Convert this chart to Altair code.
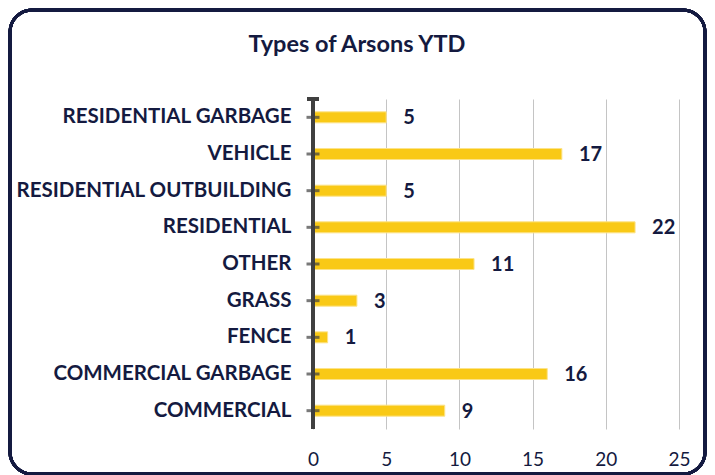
import altair as alt
import pandas as pd

categories = ["RESIDENTIAL GARBAGE", "VEHICLE", "RESIDENTIAL OUTBUILDING", "RESIDENTIAL",
              "OTHER", "GRASS", "FENCE", "COMMERCIAL GARBAGE", "COMMERCIAL"]
counts = [5, 17, 5, 22, 11, 3, 1, 16, 9]
x_ticks = [0, 5, 10, 15, 20, 25]
title_text = "Types of Arsons YTD"

NAVY = "#141a40"
AXIS = "#404040"
FONT = "Lato"

df = pd.DataFrame({"category": categories, "count": counts})

W, H = 366, 330
ycat = alt.Y("category:N", sort=categories, title=None,
             axis=alt.Axis(labelFont=FONT, labelFontSize=20.5, labelFontWeight="bold",
                           labelColor=NAVY, domain=False, ticks=False, labelPadding=22,
                           labelLimit=400))
xq = alt.X("count:Q", title=None, scale=alt.Scale(domain=[0, 25], nice=False),
           axis=alt.Axis(values=x_ticks, labelFont=FONT, labelFontSize=19,
                         labelColor=NAVY, domain=False, ticks=False, labelPadding=21,
                         labelFlush=False,
                         grid=True, gridColor="#c4c4c4", gridWidth=1))

base = alt.Chart(df)

frame = base.mark_rect(cornerRadius=22, fill=None, stroke=NAVY, strokeWidth=3).encode(
    x=alt.value(-303), x2=alt.value(392), y=alt.value(-89), y2=alt.value(375)
)

title = alt.Chart(pd.DataFrame({"t": [title_text]})).mark_text(
    font=FONT, fontSize=23.5, fontWeight="bold", color=NAVY, align="center", baseline="middle"
).encode(x=alt.value(44), y=alt.value(-54), text="t:N")

bars = base.mark_bar(size=11, color="#f9c916", stroke="#fce38a", strokeWidth=1).encode(
    x=xq, y=ycat
)

labels = base.mark_text(align="left", baseline="middle", dx=17, dy=1, font=FONT,
                        fontSize=20, fontWeight="bold", color=NAVY).encode(
    x="count:Q", y=alt.Y("category:N", sort=categories), text="count:Q"
)

axis_line = base.mark_rule(color=AXIS, strokeWidth=3.5).encode(
    x=alt.datum(0), y=alt.value(0), y2=alt.value(H)
)

cross_ticks = base.mark_tick(orient="horizontal", size=13, thickness=3, color=AXIS).encode(
    x=alt.datum(0), y=alt.Y("category:N", sort=categories)
)

top_cap = base.mark_rule(color=AXIS, strokeWidth=3).encode(
    x=alt.value(-6), x2=alt.value(6), y=alt.value(0)
)

chart = alt.layer(frame, title, bars, labels, axis_line, cross_ticks, top_cap).properties(
    width=W, height=H,
    autosize=alt.AutoSizeParams(type="none"),
    padding={"left": 305, "top": 91, "right": 28, "bottom": 46},
    background="white",
).configure_view(stroke=None)

chart.save("out.html", embed_options={"renderer": "svg", "actions": False})
